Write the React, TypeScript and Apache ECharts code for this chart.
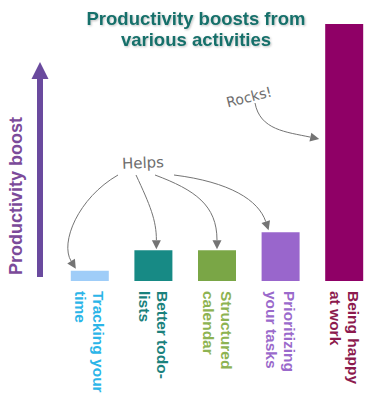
import React, { useEffect, useRef } from "react";
import * as echarts from "echarts";

const categories = [
  "Tracking your\ntime",
  "Better todo-\nlists",
  "Structured\ncalendar",
  "Prioritizing\nyour tasks",
  "Being happy\nat work",
];
const boostValues = [4, 12, 12, 19, 100];
const barColors = ["#9fcdf8", "#178a85", "#7aa646", "#9966cc", "#8f0066"];
const labelColors = ["#2bb5e8", "#1a817c", "#8db352", "#9a6acb", "#8c1a4e"];
const titleText = "Productivity boosts from\nvarious activities";
const yAxisTitle = "Productivity boost";
const helpsText = "Helps";
const rocksText = "Rocks!";

const GRAY = "#747474";
const FONT = "'Liberation Sans', Arial, Helvetica, sans-serif";

function arrow(
  x1: number, y1: number,
  c1x: number, c1y: number,
  c2x: number, c2y: number,
  tx: number, ty: number
) {
  const dx = tx - c2x;
  const dy = ty - c2y;
  const len = Math.sqrt(dx * dx + dy * dy) || 1;
  const ux = dx / len;
  const uy = dy / len;
  const L = 9;
  const W = 4.5;
  const bx = tx - ux * L;
  const by = ty - uy * L;
  const nx = -uy;
  const ny = ux;
  return [
    {
      type: "bezierCurve",
      shape: { x1, y1, cpx1: c1x, cpy1: c1y, cpx2: c2x, cpy2: c2y, x2: bx, y2: by },
      style: { stroke: GRAY, lineWidth: 1, fill: "none" },
      silent: true,
    },
    {
      type: "polygon",
      shape: {
        points: [
          [tx, ty],
          [bx + nx * W, by + ny * W],
          [bx - nx * W, by - ny * W],
        ],
      },
      style: { fill: GRAY, stroke: "none" },
      silent: true,
    },
  ];
}

export default function App() {
  const ref = useRef<HTMLDivElement>(null);

  useEffect(() => {
    if (!ref.current) return;
    const chart = echarts.init(ref.current, null, { renderer: "svg" });
    chart.setOption({
      animation: false,
      backgroundColor: "#ffffff",
      title: {
        text: titleText,
        left: 191,
        top: 3,
        textAlign: "center",
        textStyle: {
          color: "#17706b",
          fontFamily: FONT,
          fontWeight: "bold",
          fontSize: 18.5,
          lineHeight: 21,
          textShadowColor: "rgba(0,0,0,0.25)",
          textShadowBlur: 2,
          textShadowOffsetX: 1,
          textShadowOffsetY: 1,
        },
      },
      grid: { left: 58, right: 0, top: 24, bottom: 137 },
      xAxis: {
        type: "category",
        data: categories.map((c, i) => ({
          value: c,
          textStyle: { color: labelColors[i] },
        })),
        axisLine: { show: false },
        axisTick: { show: false },
        axisLabel: {
          rotate: -90,
          margin: 10,
          interval: 0,
          fontFamily: FONT,
          fontWeight: "bold",
          fontSize: 15.5,
          lineHeight: 18,
        },
      },
      yAxis: {
        type: "value",
        min: 0,
        max: 100,
        show: false,
      },
      series: [
        {
          type: "bar",
          barWidth: 38,
          data: boostValues.map((v, i) => ({
            value: v,
            itemStyle: { color: barColors[i] },
          })),
        },
      ],
    });

    const px = (i: number) =>
      chart.convertToPixel({ xAxisIndex: 0, yAxisIndex: 0 }, [i, boostValues[i]]) as number[];
    const p0 = px(0), p1 = px(1), p2 = px(2), p3 = px(3), p4 = px(4);
    const base = chart.convertToPixel({ xAxisIndex: 0, yAxisIndex: 0 }, [0, 0]) as number[];

    const graphics: any[] = [
      {
        type: "rect",
        shape: { x: 37, y: 76, width: 6, height: base[1] - 4 - 76 },
        style: { fill: "#6a4a9e" },
        silent: true,
      },
      {
        type: "polygon",
        shape: { points: [[40, 62], [31.5, 79], [48.5, 79]] },
        style: { fill: "#6a4a9e" },
        silent: true,
      },
      {
        type: "text",
        x: 16,
        y: 196,
        rotation: Math.PI / 2,
        style: {
          text: yAxisTitle,
          fill: "#7b4a9a",
          font: "bold 18px 'Liberation Sans', Arial, sans-serif",
          align: "center",
          verticalAlign: "middle",
        },
        silent: true,
      },
      {
        type: "text",
        x: 143,
        y: 163,
        rotation: 0.04,
        style: {
          text: helpsText,
          fill: "#6e6e6e",
          font: "15px 'DejaVu Sans', sans-serif",
          align: "center",
          verticalAlign: "middle",
        },
        silent: true,
      },
      {
        type: "text",
        x: 249,
        y: 97,
        rotation: 0.25,
        style: {
          text: rocksText,
          fill: "#6e6e6e",
          font: "14px 'DejaVu Sans', sans-serif",
          align: "center",
          verticalAlign: "middle",
        },
        silent: true,
      },
      ...arrow(118, 175, 78, 198, p0[0] - 30, p0[1] - 28, p0[0] - 14, p0[1] - 2),
      ...arrow(136, 175, 150, 205, p1[0] + 3, p1[1] - 30, p1[0] + 3, p1[1] - 1),
      ...arrow(155, 175, 195, 190, p2[0], p2[1] - 45, p2[0], p2[1] - 1),
      ...arrow(174, 175, 230, 182, p3[0] - 22, p3[1] - 32, p3[0] - 12, p3[1] - 2),
      ...arrow(255, 103, 260, 130, p4[0] - 58, p4[1] + 108, p4[0] - 25, 139),
    ];
    chart.setOption({ graphic: graphics });

    return () => chart.dispose();
  }, []);

  return (
    <div
      ref={ref}
      style={{ position: "fixed", left: 0, top: 0, width: 376, height: 418 }}
    />
  );
}
